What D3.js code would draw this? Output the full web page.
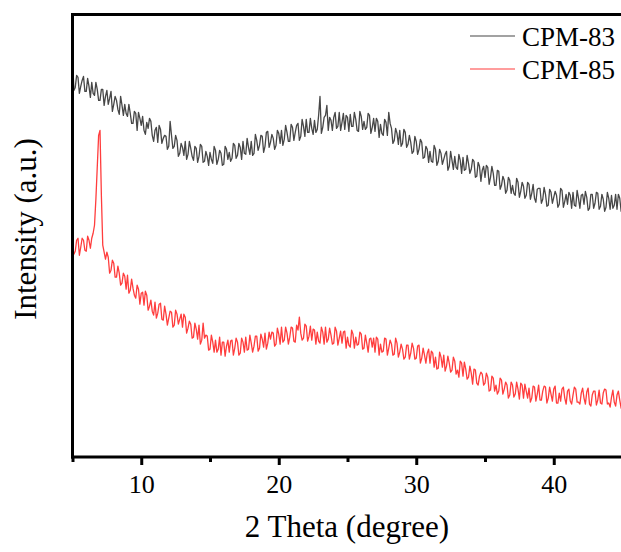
<!DOCTYPE html>
<html>
<head>
<meta charset="utf-8">
<script src="https://cdn.jsdelivr.net/npm/d3@7"></script>
<style>
  body { margin: 0; background: #fff; }
  text { font-family: 'Liberation Serif', 'Times New Roman', serif; fill: #000; }
</style>
</head>
<body>
<svg id="chart"></svg>
<script>
// 2 theta sampling of the scans
const THETA_START = 5;
const THETA_STEP = 0.1;

const MAJOR_TICKS = [10, 20, 30, 40];
const MINOR_TICKS = [5, 15, 25, 35];

const SERIES_NAMES = ['CPM-83', 'CPM-85'];
const COLORS = ['#474747', '#ff3d3d'];

// intensities (a.u.), one row = 2 degrees
const cpm83 = [
  402, 367, 370, 382, 380, 364, 371, 377, 381, 366, 366, 379, 371, 360, 375, 364, 362, 375, 368, 357,
  357, 368, 368, 352, 361, 367, 353, 359, 366, 346, 353, 361, 357, 348, 343, 361, 352, 342, 353, 344,
  341, 353, 344, 334, 334, 346, 344, 327, 345, 339, 332, 341, 327, 323, 335, 329, 339, 336, 322, 316,
  327, 330, 315, 332, 328, 314, 319, 322, 321, 308, 311, 336, 322, 309, 311, 322, 317, 301, 304, 314,
  310, 302, 316, 298, 303, 316, 309, 301, 297, 311, 309, 295, 301, 313, 311, 295, 296, 306, 301, 292,
  305, 298, 294, 311, 307, 293, 298, 307, 304, 292, 293, 311, 308, 298, 305, 296, 299, 314, 312, 299,
  302, 314, 310, 298, 316, 304, 303, 319, 310, 303, 316, 302, 304, 323, 317, 307, 312, 322, 321, 305,
  311, 325, 326, 310, 315, 323, 319, 308, 312, 327, 324, 314, 327, 312, 318, 332, 325, 316, 316, 333,
  330, 317, 325, 332, 334, 317, 321, 338, 331, 321, 338, 325, 325, 339, 329, 323, 337, 325, 328, 342,
  361, 324, 330, 340, 342, 352, 327, 340, 337, 327, 340, 345, 329, 331, 345, 327, 335, 344, 328, 342,
  340, 326, 343, 331, 331, 345, 338, 327, 326, 346, 341, 328, 336, 328, 330, 344, 342, 324, 330, 339,
  326, 339, 336, 320, 333, 324, 322, 338, 335, 322, 345, 334, 329, 314, 317, 329, 324, 313, 327, 311,
  314, 328, 325, 310, 313, 322, 315, 304, 306, 321, 316, 303, 308, 318, 315, 299, 300, 311, 308, 295,
  306, 296, 295, 312, 308, 292, 296, 308, 304, 293, 298, 303, 306, 287, 291, 306, 297, 288, 301, 290,
  288, 303, 297, 284, 300, 287, 288, 302, 294, 284, 288, 298, 296, 280, 281, 295, 291, 276, 287, 291,
  280, 292, 290, 273, 280, 291, 284, 272, 272, 287, 286, 268, 272, 281, 277, 264, 267, 280, 277, 264,
  272, 264, 262, 279, 275, 260, 266, 275, 271, 259, 262, 275, 273, 258, 264, 273, 259, 255, 268, 269,
  269, 254, 258, 270, 263, 251, 252, 268, 265, 254, 260, 266, 262, 250, 253, 269, 267, 250, 256, 263,
  253, 265, 262, 249, 265, 252, 251, 267, 259, 249, 262, 263, 253, 266, 260, 247, 249, 263, 263, 249,
  254, 265, 264, 248, 251, 263, 258, 246, 250, 265, 259, 248, 262, 249, 252, 263, 248, 263, 259, 246,
  251,
];

const cpm85 = [
  213, 203, 206, 217, 219, 202, 210, 219, 217, 207, 206, 221, 217, 209, 219, 224, 232, 258, 290, 322,
  327, 262, 212, 205, 198, 205, 200, 184, 187, 197, 194, 180, 180, 191, 184, 172, 174, 184, 181, 168,
  182, 164, 167, 178, 169, 162, 159, 172, 168, 153, 164, 165, 152, 166, 162, 147, 151, 157, 146, 142,
  155, 139, 144, 153, 154, 138, 137, 151, 143, 132, 139, 146, 145, 130, 132, 147, 143, 133, 138, 143,
  130, 143, 140, 124, 129, 136, 133, 119, 120, 134, 128, 118, 132, 113, 117, 134, 119, 122, 121, 107,
  108, 122, 115, 105, 117, 105, 108, 120, 102, 115, 115, 101, 111, 117, 105, 116, 117, 102, 109, 119,
  115, 102, 104, 119, 115, 105, 120, 107, 108, 122, 114, 105, 111, 121, 121, 106, 109, 123, 118, 110,
  124, 108, 114, 125, 118, 125, 124, 111, 113, 129, 123, 113, 130, 115, 117, 130, 124, 113, 120, 130,
  129, 116, 115, 132, 127, 140, 124, 117, 119, 133, 131, 116, 121, 131, 117, 128, 127, 113, 125, 116,
  114, 130, 125, 113, 130, 115, 118, 129, 122, 113, 114, 130, 126, 112, 119, 126, 114, 125, 126, 109,
  120, 112, 110, 127, 123, 109, 120, 112, 113, 125, 123, 108, 109, 122, 114, 105, 118, 119, 110, 119,
  105, 120, 118, 102, 113, 105, 106, 119, 118, 102, 109, 117, 113, 102, 103, 119, 114, 100, 105, 113,
  108, 98, 100, 112, 112, 98, 104, 114, 109, 98, 99, 111, 112, 94, 99, 109, 102, 94, 104, 108,
  94, 106, 104, 90, 100, 88, 89, 105, 100, 90, 102, 86, 91, 101, 94, 85, 87, 100, 96, 83,
  87, 80, 96, 94, 81, 95, 88, 78, 80, 91, 84, 73, 88, 87, 74, 72, 81, 85, 83, 72,
  74, 84, 80, 66, 67, 81, 79, 66, 72, 63, 66, 79, 77, 63, 68, 75, 72, 59, 62, 75,
  72, 60, 63, 75, 68, 58, 74, 72, 59, 73, 66, 59, 69, 55, 59, 71, 70, 56, 63, 72,
  57, 57, 66, 71, 70, 54, 59, 70, 63, 56, 68, 71, 54, 54, 64, 56, 68, 70, 59, 53,
  66, 68, 56, 53, 62, 70, 68, 55, 55, 53, 64, 69, 59, 53, 65, 69, 53, 51, 62, 66,
  66, 52, 57, 67, 54, 53, 64, 68, 67, 53, 54, 50, 60, 67, 55, 51, 62, 66, 57, 49,
  53,
];

const width = 621;
const height = 552;
const plotLeft = 72.5;
const plotTop = 14.5;
const plotBottom = 457;
const plotRight = 622.5;

const svg = d3
  .select('#chart')
  .attr('width', width)
  .attr('height', height);

svg
  .append('rect')
  .attr('width', width)
  .attr('height', height)
  .attr('fill', '#fff');

const x = d3.scaleLinear().domain([5, 45]).range([plotLeft, plotRight]);
const y = d3.scaleLinear().domain([0, 443]).range([plotBottom, plotTop]);

const theta = i => THETA_START + i * THETA_STEP;

svg
  .append('clipPath')
  .attr('id', 'plot-clip')
  .append('rect')
  .attr('x', plotLeft)
  .attr('y', plotTop)
  .attr('width', plotRight - plotLeft)
  .attr('height', plotBottom - plotTop);

const line = d3
  .line()
  .x((d, i) => x(theta(i)))
  .y(d => y(d));

const plot = svg.append('g').attr('clip-path', 'url(#plot-clip)');

[cpm83, cpm85].forEach((series, k) => {
  plot
    .append('path')
    .datum(series)
    .attr('fill', 'none')
    .attr('stroke', COLORS[k])
    .attr('stroke-width', 1.3)
    .attr('stroke-linejoin', 'round')
    .attr('d', line);
});

// axes: major ticks with labels, minor ticks without
const xAxis = svg
  .append('g')
  .attr('transform', `translate(0,${plotBottom})`)
  .call(
    d3
      .axisBottom(x)
      .tickValues(MAJOR_TICKS)
      .tickSize(8)
      .tickFormat(d3.format('d')),
  );
xAxis.select('.domain').remove();
xAxis
  .selectAll('line')
  .attr('stroke', '#000')
  .attr('stroke-width', 3);
xAxis
  .selectAll('text')
  .attr('y', 36)
  .attr('dy', null)
  .style('font-size', '26px')
  .style('font-family', "'Liberation Serif', 'Times New Roman', serif");

const xMinor = svg
  .append('g')
  .attr('transform', `translate(0,${plotBottom})`)
  .call(
    d3
      .axisBottom(x)
      .tickValues(MINOR_TICKS)
      .tickSize(5)
      .tickFormat(''),
  );
xMinor.select('.domain').remove();
xMinor
  .selectAll('line')
  .attr('stroke', '#000')
  .attr('stroke-width', 3);

// frame: left, bottom, top (right side runs off the picture)
const frame = svg
  .append('g')
  .attr('stroke', '#000')
  .attr('stroke-width', 3);
frame
  .append('line')
  .attr('x1', plotLeft)
  .attr('x2', plotLeft)
  .attr('y1', plotTop - 1.5)
  .attr('y2', plotBottom + 1.5);
frame
  .append('line')
  .attr('x1', plotLeft - 1.5)
  .attr('x2', width)
  .attr('y1', plotBottom)
  .attr('y2', plotBottom);
frame
  .append('line')
  .attr('x1', plotLeft - 1.5)
  .attr('x2', width)
  .attr('y1', plotTop)
  .attr('y2', plotTop);

svg
  .append('text')
  .attr('x', 347)
  .attr('y', 537)
  .attr('text-anchor', 'middle')
  .style('font-size', '31px')
  .text('2 Theta (degree)');

svg
  .append('text')
  .attr('transform', 'translate(36,229) rotate(-90)')
  .attr('text-anchor', 'middle')
  .style('font-size', '31px')
  .text('Intensity (a.u.)');

// legend
const legend = svg.append('g');
SERIES_NAMES.forEach((name, k) => {
  const ly = 36 + k * 33;
  legend
    .append('line')
    .attr('x1', 470)
    .attr('x2', 515)
    .attr('y1', ly)
    .attr('y2', ly)
    .attr('stroke', COLORS[k])
    .attr('stroke-width', 1.1);
  legend
    .append('text')
    .attr('x', 522)
    .attr('y', ly + 9.5)
    .style('font-size', '27px')
    .text(name);
});
</script>
</body>
</html>
